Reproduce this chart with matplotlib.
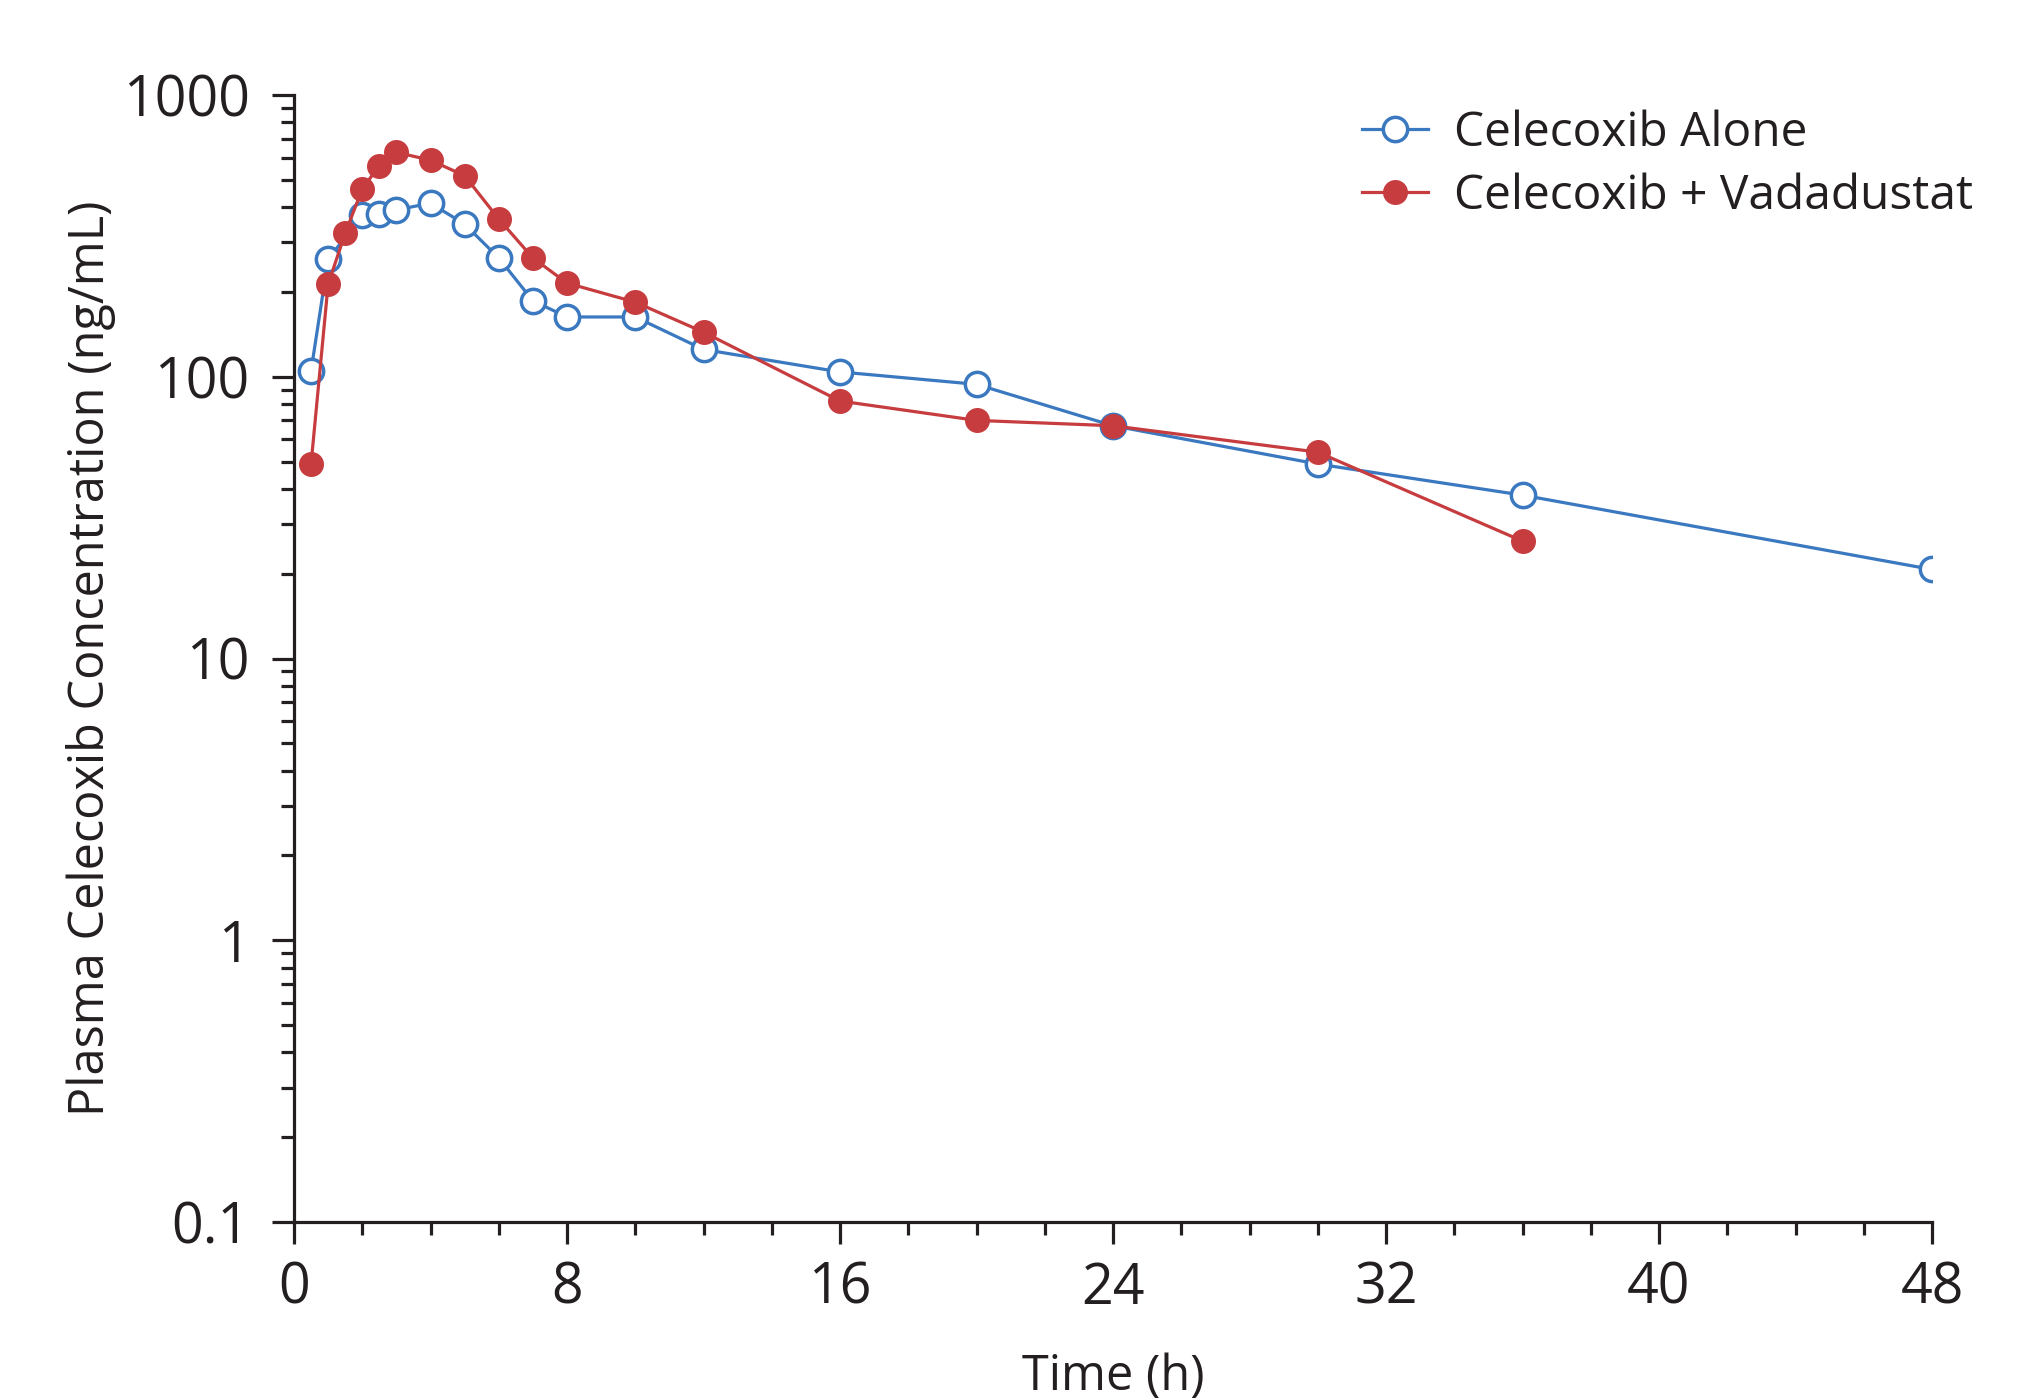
import matplotlib
matplotlib.use("Agg")
import matplotlib.pyplot as plt
from matplotlib.ticker import FixedLocator, LogLocator, NullFormatter, FixedFormatter

plt.rcParams['font.family'] = ['Open Sans', 'DejaVu Sans']

# Data
time_alone = [0.5, 1, 2, 2.5, 3, 4, 5, 6, 7, 8, 10, 12, 16, 20, 24, 30, 36, 48]
conc_alone = [105, 261, 375, 379, 391, 413, 348, 264, 186, 163, 163, 125, 104, 94, 67, 49, 38, 20.7]

time_combo = [0.5, 1, 1.5, 2, 2.5, 3, 4, 5, 6, 7, 8, 10, 12, 16, 20, 24, 30, 36]
conc_combo = [49, 213, 323, 464, 562, 626, 587, 517, 363, 264, 215, 184, 144, 82, 70, 67, 54, 26.1]

label_alone = "Celecoxib Alone"
label_combo = "Celecoxib + Vadadustat"
xlabel = "Time (h)"
ylabel = "Plasma Celecoxib Concentration (ng/mL)"
xticks = [0, 8, 16, 24, 32, 40, 48]
yticks = [0.1, 1, 10, 100, 1000]
yticklabels = ["0.1", "1", "10", "100", "1000"]

blue = "#3a78c0"
red = "#c63c3f"
ink = "#231f20"

fig = plt.figure(figsize=(20.42, 13.99), dpi=100)
ax = fig.add_axes([294/2042, 1 - 1222/1399, (1932-294)/2042, (1222-95)/1399])

ax.plot(time_alone, conc_alone, color=blue, lw=2.3, marker='o', ms=17.5,
        mfc='white', mec=blue, mew=2.5, label=label_alone, zorder=3)
ax.plot(time_combo, conc_combo, color=red, lw=2.3, marker='o', ms=18,
        mfc=red, mec=red, mew=0, label=label_combo, zorder=4)

ax.set_yscale('log')
ax.set_ylim(0.1, 1000)
ax.set_xlim(0, 48)
ax.yaxis.set_major_locator(FixedLocator(yticks))
ax.yaxis.set_major_formatter(FixedFormatter(yticklabels))
ax.yaxis.set_minor_locator(LogLocator(base=10, subs=range(2, 10)))
ax.yaxis.set_minor_formatter(NullFormatter())
ax.xaxis.set_major_locator(FixedLocator(xticks))
ax.xaxis.set_minor_locator(FixedLocator(list(range(0, 49, 2))))

for s in ['top', 'right']:
    ax.spines[s].set_visible(False)
for s in ['left', 'bottom']:
    ax.spines[s].set_linewidth(2.3)
    ax.spines[s].set_color(ink)

ax.tick_params(axis='both', which='major', length=16, width=2.3, color=ink,
               labelsize=40, labelcolor=ink)
ax.tick_params(axis='both', which='minor', length=9.5, width=2.3, color=ink)
ax.tick_params(axis='y', which='major', pad=16)
ax.tick_params(axis='x', which='major', pad=12)

ax.set_xlabel(xlabel, fontsize=35, color=ink, labelpad=25)
ax.set_ylabel(ylabel, fontsize=35, color=ink, labelpad=5)

leg = ax.legend(loc='upper left', bbox_to_anchor=(0.652, 0.987), frameon=False,
                fontsize=34.5, handlelength=1.37, handletextpad=0.55, labelspacing=0.32,
                borderaxespad=0, borderpad=0)
for t in leg.get_texts():
    t.set_color(ink)

fig.savefig("out.png", dpi=100, facecolor='white')
